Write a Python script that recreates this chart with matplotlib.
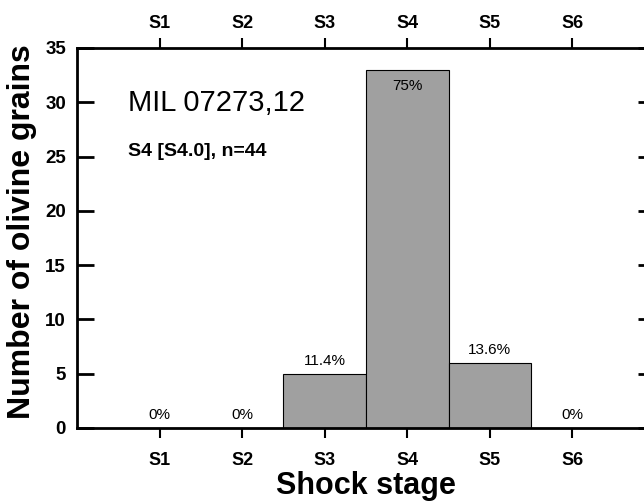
import matplotlib
matplotlib.use("Agg")
import matplotlib.pyplot as plt
import matplotlib.transforms as mtransforms

plt.rcParams['font.family'] = ['Liberation Sans', 'DejaVu Sans']

categories = ["S1", "S2", "S3", "S4", "S5", "S6"]
counts = [0, 0, 5, 33, 6, 0]
percent_labels = ["0%", "0%", "11.4%", "75%", "13.6%", "0%"]
sample_name = "MIL 07273,12"
sample_info = "S4 [S4.0], n=44"

fig = plt.figure(figsize=(6.44, 5.03), dpi=100)
ax = fig.add_axes([77/644, 75/503, (655-77)/644, (428-48)/503])

xpos = list(range(1, len(categories) + 1))
ax.bar(xpos, counts, width=1.0, color="#a0a0a0", edgecolor="black", linewidth=0.8, zorder=2)

for x, c, lab in zip(xpos, counts, percent_labels):
    if c > 30:
        ax.text(x, c - 0.9, lab, ha="center", va="top", fontsize=11)
    else:
        ax.text(x, c + 0.55, lab, ha="center", va="bottom", fontsize=11)

ax.set_xlim(0, 7)
ax.set_ylim(0, 35)
ax.set_xticks(xpos)
ax.set_xticklabels(categories, fontsize=13, fontweight="bold")
ax.set_yticks(range(0, 36, 5))
ax.set_yticklabels([str(v) for v in range(0, 36, 5)], fontsize=13.5, fontweight="bold")
ax.tick_params(axis="y", direction="in", length=12, width=2, right=True, pad=8)
ax.tick_params(axis="x", direction="out", length=7, width=1.5, top=True, labeltop=True, pad=10)

# bring the top tick labels closer to the axis
offset = mtransforms.ScaledTranslation(0, -5.5/72, fig.dpi_scale_trans)
for t in ax.xaxis.get_major_ticks():
    t.label2.set_transform(t.label2.get_transform() + offset)

for s in ax.spines.values():
    s.set_linewidth(2)

ax.set_xlabel("Shock stage", fontsize=22, fontweight="bold", labelpad=2)
ax.set_ylabel("Number of olivine grains", fontsize=23, fontweight="bold", labelpad=6)
ax.yaxis.label.set_y(0.518)

ax.text(0.088, 0.855, sample_name, transform=ax.transAxes, fontsize=21, ha="left", va="center")
ax.text(0.088, 0.728, sample_info, transform=ax.transAxes, fontsize=14, fontweight="bold", ha="left", va="center")

fig.savefig("out.png", dpi=100)
